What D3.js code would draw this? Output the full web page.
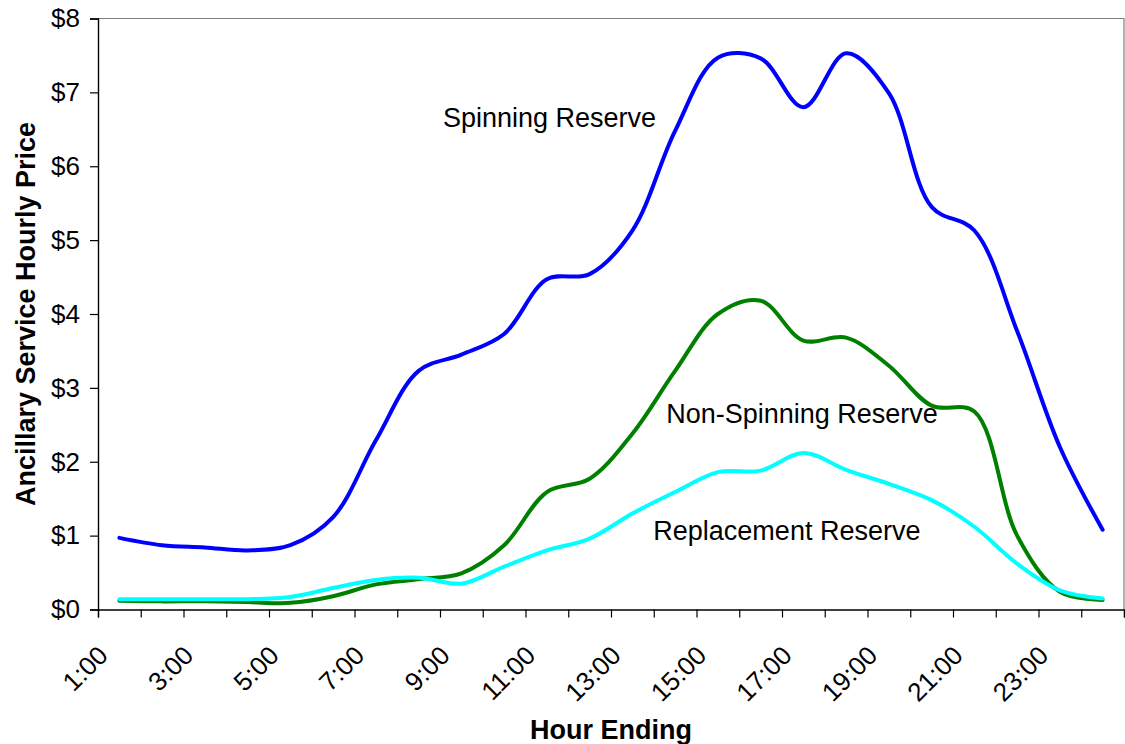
<!DOCTYPE html>
<html>
<head>
<meta charset="utf-8">
<script src="https://cdn.jsdelivr.net/npm/d3@7"></script>
<style>
  html, body { margin: 0; padding: 0; background: #fff; }
  svg { display: block; font-family: "Liberation Sans", Arial, sans-serif; }
</style>
</head>
<body>
<svg id="chart" width="1125" height="744"></svg>
<script>
// Hourly ancillary service prices ($) by hour ending
const hours = ["1:00","2:00","3:00","4:00","5:00","6:00","7:00","8:00","9:00","10:00","11:00","12:00",
               "13:00","14:00","15:00","16:00","17:00","18:00","19:00","20:00","21:00","22:00","23:00","24:00"];
const spinning    = [0.97,0.87,0.84,0.80,0.87,1.25,2.29,3.23,3.45,3.73,4.47,4.54,5.13,6.48,7.47,7.46,6.80,7.53,6.99,5.45,5.13,3.77,2.20,1.08];
const nonSpinning = [0.12,0.11,0.11,0.10,0.09,0.18,0.34,0.41,0.49,0.87,1.59,1.77,2.38,3.23,4.00,4.18,3.64,3.68,3.30,2.76,2.68,1.00,0.24,0.13];
const replacement = [0.14,0.14,0.14,0.14,0.17,0.29,0.40,0.43,0.35,0.58,0.80,0.96,1.30,1.59,1.86,1.88,2.12,1.89,1.70,1.48,1.12,0.62,0.26,0.15];
const yTicks = [0,1,2,3,4,5,6,7,8];
const xLabelHours = ["1:00","3:00","5:00","7:00","9:00","11:00","13:00","15:00","17:00","19:00","21:00","23:00"];

const seriesList = [
  { name: "Spinning Reserve",     values: spinning,    color: "#0000FF", label: { h: 8.07,  v: 6.53 } },
  { name: "Non-Spinning Reserve", values: nonSpinning, color: "#008000", label: { h: 13.29, v: 2.52 } },
  { name: "Replacement Reserve",  values: replacement, color: "#00FFFF", label: { h: 12.99, v: 0.94 } }
];

const svg = d3.select("#chart");
const m = { left: 98, right: 1124, top: 18.5, bottom: 609.5 };

const x = d3.scaleBand().domain(hours).range([m.left, m.right]).paddingInner(0).paddingOuter(0);
const xEdge = d3.scaleLinear().domain([0, hours.length]).range([m.left, m.right]);
const y = d3.scaleLinear().domain([0, 8]).range([m.bottom, m.top]);

// plot frame (top and right edges)
svg.append("path")
  .attr("d", `M${m.left},${m.top}H${m.right}V${m.bottom}`)
  .attr("fill", "none").attr("stroke", "#808080").attr("stroke-width", 1.2);

// series lines (smoothed through each hourly value)
const line = d3.line()
  .x((d, i) => x(hours[i]) + x.bandwidth() / 2)
  .y(d => y(d))
  .curve(d3.curveCatmullRom.alpha(0.5));

seriesList.forEach(s => {
  svg.append("path")
    .datum(s.values)
    .attr("d", line)
    .attr("fill", "none")
    .attr("stroke", s.color)
    .attr("stroke-width", 4)
    .attr("stroke-linejoin", "round")
    .attr("stroke-linecap", "round");
});

// y axis
const yAxis = svg.append("g")
  .attr("transform", `translate(${m.left},0)`)
  .call(d3.axisLeft(y).tickValues(yTicks).tickFormat(d => "$" + d).tickSize(8).tickPadding(10));
yAxis.selectAll("text").attr("font-size", 26).attr("fill", "#000").attr("font-family", "Liberation Sans, Arial, sans-serif");
yAxis.selectAll("line").attr("stroke", "#000").attr("stroke-width", 1.2);
yAxis.select(".domain").attr("stroke", "#000").attr("stroke-width", 1.4);

// x axis: tick marks on category boundaries
const xAxis = svg.append("g")
  .attr("transform", `translate(0,${m.bottom})`)
  .call(d3.axisBottom(xEdge).ticks(hours.length).tickFormat("").tickSize(8));
xAxis.selectAll("line").attr("stroke", "#000").attr("stroke-width", 1.2);
xAxis.select(".domain").attr("stroke", "#000").attr("stroke-width", 1.4);

// x axis: rotated category labels
const xLab = svg.append("g")
  .attr("transform", `translate(0,${m.bottom})`)
  .call(d3.axisBottom(x).tickValues(xLabelHours).tickSize(0));
xLab.select(".domain").remove();
xLab.selectAll("text")
  .attr("font-size", 26).attr("fill", "#000")
  .attr("font-family", "Liberation Sans, Arial, sans-serif")
  .attr("text-anchor", "end")
  .attr("dy", 0).attr("y", 0)
  .attr("transform", "translate(-10,47.5) rotate(-45)");

// axis titles
svg.append("text")
  .attr("x", (m.left + m.right) / 2).attr("y", 739)
  .attr("text-anchor", "middle")
  .attr("font-size", 27).attr("font-weight", "bold")
  .text("Hour Ending");

svg.append("text")
  .attr("transform", `translate(35,${(m.top + m.bottom) / 2}) rotate(-90)`)
  .attr("text-anchor", "middle")
  .attr("font-size", 27).attr("font-weight", "bold")
  .text("Ancillary Service Hourly Price");

// series labels
seriesList.forEach(s => {
  svg.append("text")
    .attr("x", xEdge(s.label.h)).attr("y", y(s.label.v))
    .attr("font-size", 27).attr("fill", "#000")
    .text(s.name);
});
</script>
</body>
</html>
